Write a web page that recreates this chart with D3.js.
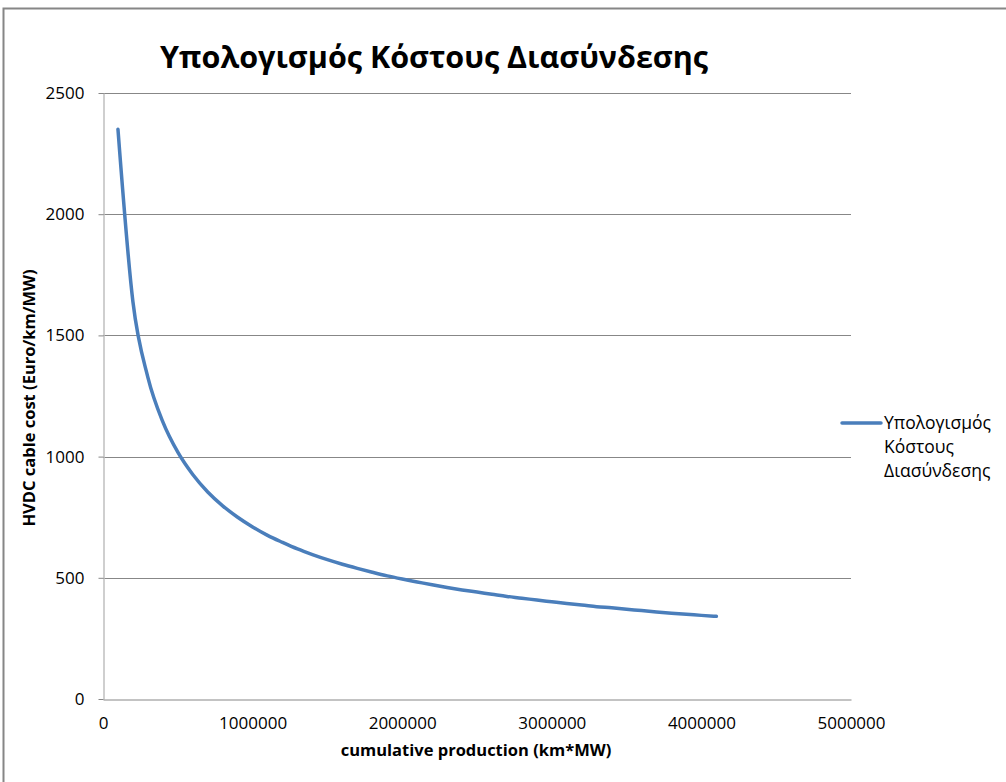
<!DOCTYPE html>
<html>
<head>
<meta charset="utf-8">
<script src="https://cdn.jsdelivr.net/npm/d3@7"></script>
<style>
  html, body { margin: 0; padding: 0; background: #fff; }
  svg { display: block; }
  text { font-family: "Open Sans", "Noto Sans", sans-serif; }
</style>
</head>
<body>
<svg id="chart" width="1006" height="782"></svg>
<script>
// Cumulative production (km*MW)
const production = [
  100000, 200000, 300000, 400000, 500000, 600000, 700000, 800000, 900000, 1000000,
  1100000, 1200000, 1300000, 1400000, 1500000, 1600000, 1700000, 1800000, 1900000, 2000000,
  2100000, 2200000, 2300000, 2400000, 2500000, 2600000, 2700000, 2800000, 2900000, 3000000,
  3100000, 3200000, 3300000, 3400000, 3500000, 3600000, 3700000, 3800000, 3900000, 4000000,
  4100000
];
// HVDC cable cost (Euro/km/MW)
const cableCost = [
  2350, 1639, 1327, 1143, 1018, 926, 854, 797, 750, 710,
  675, 646, 619, 596, 575, 556, 539, 523, 508, 495,
  483, 471, 460, 450, 441, 432, 423, 416, 408, 401,
  394, 388, 381, 376, 370, 365, 359, 354, 350, 345,
  341
];
const xTicks = [0, 1000000, 2000000, 3000000, 4000000, 5000000];
const yTicks = [0, 500, 1000, 1500, 2000, 2500];
const seriesName = "Υπολογισμός Κόστους Διασύνδεσης";
const legendLines = ["Υπολογισμός", "Κόστους", "Διασύνδεσης"];
const chartTitle = "Υπολογισμός Κόστους Διασύνδεσης";
const xTitle = "cumulative production (km*MW)";
const yTitle = "HVDC cable cost (Euro/km/MW)";

const svg = d3.select("#chart");
const plot = { left: 103, right: 851, top: 93, bottom: 699 };
const lineColor = "#4a7ebb";

// Outer chart frame
svg.append("rect")
  .attr("x", 3.5).attr("y", 8.5)
  .attr("width", 1010).attr("height", 790)
  .attr("fill", "#fff")
  .attr("stroke", "#868686")
  .attr("stroke-width", 2);

const x = d3.scaleLinear().domain([0, 5000000]).range([plot.left, plot.right]);
const y = d3.scaleLinear().domain([0, 2500]).range([plot.bottom, plot.top]);

// Horizontal gridlines
svg.append("g")
  .selectAll("line")
  .data(yTicks.filter(d => d > 0))
  .join("line")
  .attr("x1", plot.left).attr("x2", plot.right)
  .attr("y1", d => Math.round(y(d)) + 0.5)
  .attr("y2", d => Math.round(y(d)) + 0.5)
  .attr("stroke", "#878787")
  .attr("stroke-width", 1);

// Y axis
const yAxis = svg.append("g")
  .attr("transform", `translate(${plot.left + 0.5},0)`)
  .call(d3.axisLeft(y).tickValues(yTicks).tickSize(5).tickSizeOuter(0).tickPadding(14).tickFormat(d3.format("d")));
yAxis.select(".domain").attr("stroke", "#bfbfbf").attr("stroke-width", 1.5);
yAxis.selectAll(".tick line").attr("stroke", "#878787");
yAxis.selectAll(".tick text")
  .attr("font-size", 17)
  .attr("fill", "#000");

// X axis
const xAxis = svg.append("g")
  .attr("transform", `translate(0,${Math.round(plot.bottom) + 0.5})`)
  .call(d3.axisBottom(x).tickValues(xTicks).tickSize(0).tickSizeOuter(0).tickPadding(17).tickFormat(d3.format("d")));
xAxis.select(".domain").attr("stroke", "#878787").attr("stroke-width", 1);
xAxis.selectAll(".tick text")
  .attr("font-size", 17)
  .attr("fill", "#000");

// Series line
const pts = production.map((p, i) => [p, cableCost[i]]);
svg.append("path")
  .datum(pts)
  .attr("fill", "none")
  .attr("stroke", lineColor)
  .attr("stroke-width", 3.5)
  .attr("stroke-linecap", "round")
  .attr("stroke-linejoin", "round")
  .attr("d", d3.line().x(d => x(d[0])).y(d => y(d[1])).curve(d3.curveMonotoneX));

// Title
svg.append("text")
  .attr("x", 434).attr("y", 68)
  .attr("text-anchor", "middle")
  .attr("font-size", 30.5)
  .attr("font-weight", "bold")
  .attr("fill", "#000")
  .text(chartTitle);

// Axis titles
svg.append("text")
  .attr("x", 476).attr("y", 756)
  .attr("text-anchor", "middle")
  .attr("font-size", 16.5)
  .attr("font-weight", "bold")
  .attr("fill", "#000")
  .text(xTitle);

svg.append("text")
  .attr("transform", "translate(35,398) rotate(-90)")
  .attr("text-anchor", "middle")
  .attr("font-size", 16.5)
  .attr("font-weight", "bold")
  .attr("fill", "#000")
  .text(yTitle);

// Legend
const legend = svg.append("g").attr("transform", "translate(842,423)");
legend.append("line")
  .attr("x1", 0).attr("x2", 39)
  .attr("y1", 0).attr("y2", 0)
  .attr("stroke", lineColor)
  .attr("stroke-width", 3.5)
  .attr("stroke-linecap", "round");
legend.append("text")
  .attr("x", 42).attr("y", 6)
  .attr("font-size", 17.5)
  .attr("fill", "#000")
  .attr("aria-label", seriesName)
  .selectAll("tspan")
  .data(legendLines)
  .join("tspan")
  .attr("x", 42)
  .attr("dy", (d, i) => i === 0 ? 0 : 24)
  .text(d => d);
</script>
</body>
</html>
